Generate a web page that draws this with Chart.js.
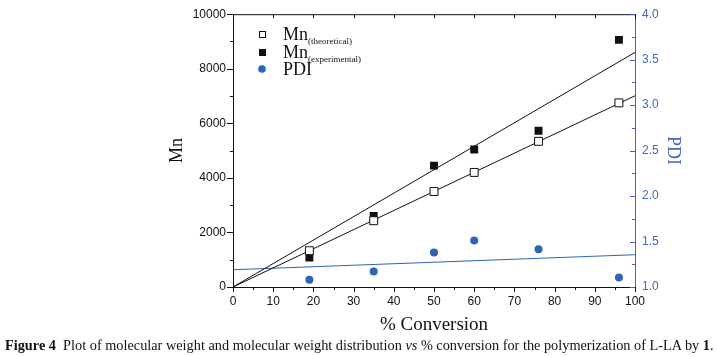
<!DOCTYPE html>
<html>
<head>
<meta charset="utf-8">
<script src="https://cdn.jsdelivr.net/npm/chart.js@4.4.1/dist/chart.umd.min.js"></script>
<style>
  html, body { margin: 0; padding: 0; background: #fff; }
  #wrap { position: relative; width: 717px; height: 357px; overflow: hidden; }
  #chart { position: absolute; left: 0; top: 0; }
  .caption {
    position: absolute; left: 5px; top: 337px;
    font-family: "Liberation Serif", serif; font-size: 14.3px; color: #111;
    white-space: nowrap;
  }
</style>
</head>
<body>
<div id="wrap">
  <canvas id="chart" width="717" height="357"></canvas>
  <div class="caption"><b>Figure 4</b>&nbsp; Plot of molecular weight and molecular weight distribution <i>vs</i> % conversion for the polymerization of L-LA by <b>1</b>.</div>
</div>
<script>
// data
const conversion = [19, 35, 50, 60, 76, 96];
const mnTheoretical = [1330, 2430, 3500, 4200, 5340, 6750];
const mnExperimental = [1080, 2600, 4450, 5040, 5730, 9060];
const pdi = [1.08, 1.17, 1.38, 1.51, 1.415, 1.105];

// fitted lines (end points at 0 % and 100 %)
const fitX = [0, 100];
const fitTheoretical = [0, 7010];
const fitExperimental = [0, 8600];
const fitPdi = [1.19, 1.355];

// tick labels
const xTicks = [0, 10, 20, 30, 40, 50, 60, 70, 80, 90, 100];
const mnTicks = [0, 2000, 4000, 6000, 8000, 10000];
const pdiTicks = [1.0, 1.5, 2.0, 2.5, 3.0, 3.5, 4.0];

const BLACK = '#111';
const AXIS_BLUE = '#4467c4';
const PDI_BLUE = '#2c64b8';
const SERIF = '"Liberation Serif", "Times New Roman", serif';
const SANS = '"Liberation Sans", Arial, sans-serif';

const pts = (xs, ys) => xs.map((x, i) => ({ x: x, y: ys[i] }));

function line(ctx, x1, y1, x2, y2) {
    ctx.beginPath();
    ctx.moveTo(x1, y1);
    ctx.lineTo(x2, y2);
    ctx.stroke();
}

// tick marks: outward on left / bottom, inward on top / right, with minor ticks
const tickMarks = {
    id: 'tickMarks',
    afterDraw(chart) {
        const ctx = chart.ctx;
        const { left, right, top, bottom } = chart.chartArea;
        const { x, y, y1 } = chart.scales;
        ctx.save();
        ctx.lineWidth = 1;
        ctx.strokeStyle = BLACK;
        line(ctx, left, top + 0.5, right, top + 0.5);

        xTicks.forEach((v, i) => {
            const px = Math.round(x.getPixelForValue(v)) + 0.5;
            line(ctx, px, bottom, px, bottom + 5);
            line(ctx, px, top, px, top + 4);
            if (i < xTicks.length - 1) {
                const mx = Math.round(x.getPixelForValue((v + xTicks[i + 1]) / 2)) + 0.5;
                line(ctx, mx, bottom, mx, bottom + 3);
            }
        });

        mnTicks.forEach((v, i) => {
            const py = Math.round(y.getPixelForValue(v)) + 0.5;
            line(ctx, left - 6, py, left, py);
            if (i < mnTicks.length - 1) {
                const my = Math.round(y.getPixelForValue((v + mnTicks[i + 1]) / 2)) + 0.5;
                line(ctx, left - 3, my, left, my);
            }
        });

        ctx.strokeStyle = AXIS_BLUE;
        pdiTicks.forEach((v, i) => {
            const py = Math.round(y1.getPixelForValue(v)) + 0.5;
            line(ctx, right - 5, py, right, py);
            if (i < pdiTicks.length - 1) {
                const my = Math.round(y1.getPixelForValue((v + pdiTicks[i + 1]) / 2)) + 0.5;
                line(ctx, right - 3, my, right, my);
            }
        });
        ctx.restore();
    }
};

// legend with subscripts
const subLegend = {
    id: 'subLegend',
    afterDraw(chart) {
        const ctx = chart.ctx;
        const items = [
            { label: 'Mn', sub: '(theoretical)', y: 34, marker: 'open' },
            { label: 'Mn', sub: '(experimental)', y: 52, marker: 'filled' },
            { label: 'PDI', sub: '', y: 69, marker: 'dot' }
        ];
        const mx = 262, tx = 283;
        ctx.save();
        items.forEach(it => {
            ctx.lineWidth = 1;
            if (it.marker === 'open') {
                ctx.fillStyle = '#fff';
                ctx.strokeStyle = BLACK;
                ctx.fillRect(mx - 3, it.y - 3, 6, 6);
                ctx.strokeRect(mx - 2.5, it.y - 2.5, 6, 6);
            } else if (it.marker === 'filled') {
                ctx.fillStyle = BLACK;
                ctx.fillRect(mx - 3, it.y - 3, 7, 7);
            } else {
                ctx.fillStyle = PDI_BLUE;
                ctx.beginPath();
                ctx.arc(mx, it.y, 3.8, 0, Math.PI * 2);
                ctx.fill();
            }
            ctx.fillStyle = BLACK;
            ctx.textBaseline = 'alphabetic';
            ctx.textAlign = 'left';
            ctx.font = '18px ' + SERIF;
            ctx.fillText(it.label, tx, it.y + 6);
            if (it.sub) {
                const w = ctx.measureText(it.label).width;
                ctx.font = '9px ' + SERIF;
                ctx.fillText(it.sub, tx + w, it.y + 10);
            }
        });
        ctx.restore();
    }
};

const setTicks = list => scale => { scale.ticks = list.map(v => ({ value: v })); };

new Chart(document.getElementById('chart'), {
    type: 'scatter',
    data: {
        datasets: [{
            label: 'Mn(theoretical)',
            data: pts(conversion, mnTheoretical),
            yAxisID: 'y',
            pointStyle: 'rect',
            pointRadius: 5.6,
            pointBackgroundColor: '#fff',
            pointBorderColor: BLACK,
            pointBorderWidth: 1,
            order: 0
        }, {
            label: 'Mn(experimental)',
            data: pts(conversion, mnExperimental),
            yAxisID: 'y',
            pointStyle: 'rect',
            pointRadius: 5.6,
            pointBackgroundColor: BLACK,
            pointBorderColor: BLACK,
            pointBorderWidth: 0,
            order: 0
        }, {
            label: 'PDI',
            data: pts(conversion, pdi),
            yAxisID: 'y1',
            pointStyle: 'circle',
            pointRadius: 4,
            pointBackgroundColor: PDI_BLUE,
            pointBorderWidth: 0,
            order: 0
        }, {
            label: 'fit theoretical',
            data: pts(fitX, fitTheoretical),
            yAxisID: 'y',
            showLine: true,
            borderColor: BLACK,
            borderWidth: 1,
            pointRadius: 0,
            order: 1
        }, {
            label: 'fit experimental',
            data: pts(fitX, fitExperimental),
            yAxisID: 'y',
            showLine: true,
            borderColor: BLACK,
            borderWidth: 1,
            pointRadius: 0,
            order: 1
        }, {
            label: 'fit PDI',
            data: pts(fitX, fitPdi),
            yAxisID: 'y1',
            showLine: true,
            borderColor: PDI_BLUE,
            borderWidth: 1,
            pointRadius: 0,
            order: 1
        }]
    },
    options: {
        responsive: false,
        animation: false,
        devicePixelRatio: 1,
        layout: { padding: { top: 5, left: 0, right: 0, bottom: 0 } },
        plugins: {
            legend: { display: false },
            tooltip: { enabled: false }
        },
        scales: {
            x: {
                type: 'linear',
                min: 0,
                max: 100,
                afterBuildTicks: setTicks(xTicks),
                afterFit: s => { s.height = 70; },
                grid: { display: true, drawOnChartArea: false, drawTicks: false },
                border: { display: true, color: BLACK, width: 1 },
                ticks: {
                    padding: 7,
                    color: BLACK,
                    font: { family: SANS, size: 12 },
                    callback: v => String(v)
                },
                title: {
                    display: true,
                    text: '% Conversion',
                    color: BLACK,
                    font: { family: SERIF, size: 19 },
                    padding: { top: 0, bottom: 21 }
                }
            },
            y: {
                type: 'linear',
                position: 'left',
                min: 0,
                max: 10000,
                afterBuildTicks: setTicks(mnTicks),
                afterFit: s => { s.width = 233; },
                grid: { display: true, drawOnChartArea: false, drawTicks: false },
                border: { display: true, color: BLACK, width: 1 },
                ticks: {
                    padding: 7,
                    color: BLACK,
                    font: { family: SANS, size: 12 },
                    callback: v => String(v)
                },
                title: {
                    display: true,
                    text: 'Mn',
                    color: BLACK,
                    font: { family: SERIF, size: 18 },
                    padding: { top: 166, bottom: 0 }
                }
            },
            y1: {
                type: 'linear',
                position: 'right',
                min: 1,
                max: 4,
                afterBuildTicks: setTicks(pdiTicks),
                afterFit: s => { s.width = 82; },
                grid: { display: true, drawOnChartArea: false, drawTicks: false },
                border: { display: true, color: AXIS_BLUE, width: 1 },
                ticks: {
                    padding: 7,
                    color: AXIS_BLUE,
                    font: { family: SANS, size: 12 },
                    callback: v => v.toFixed(1)
                },
                title: {
                    display: true,
                    text: 'PDI',
                    color: AXIS_BLUE,
                    font: { family: SERIF, size: 18 },
                    padding: { top: 33, bottom: 0 }
                }
            }
        }
    },
    plugins: [tickMarks, subLegend]
});
</script>
</body>
</html>
